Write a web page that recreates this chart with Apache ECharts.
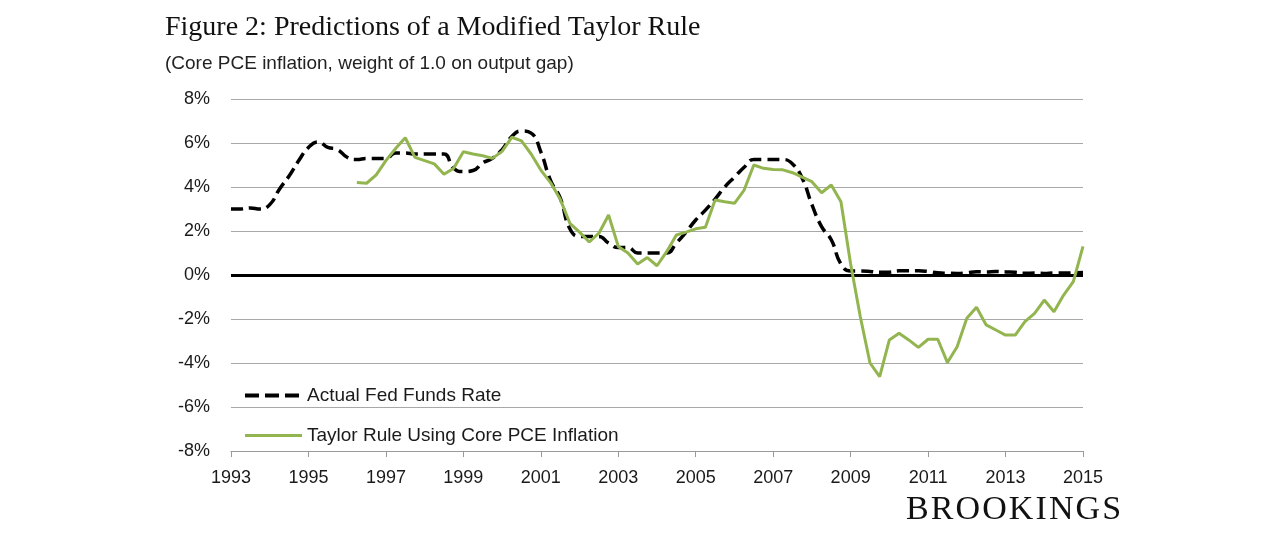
<!DOCTYPE html>
<html>
<head>
    <meta charset="utf-8">
    <title>Figure 2: Predictions of a Modified Taylor Rule</title>
    <style>
        html, body { margin: 0; padding: 0; background: #fff; }
        #wrap { position: relative; width: 1280px; height: 534px; }
        #chart { width: 1280px; height: 534px; }
        #brand {
            position: absolute; left: 906px; top: 488px;
            font-family: "Liberation Serif", serif; font-size: 34px;
            letter-spacing: 2.1px; color: #111; line-height: 40px;
        }
    </style>
</head>
<body>
<div id="wrap">
    <div id="chart"></div>
    <div id="brand">BROOKINGS</div>
</div>
<script src="https://cdn.jsdelivr.net/npm/echarts@6/dist/echarts.min.js"></script>
<script>
    // quarterly, 1993 Q1 .. 2015 Q1
    var years = [];
    for (var y = 1993; y <= 2015; y++) {
        for (var q = 1; q <= 4; q++) {
            if (y === 2015 && q > 1) break;
            years.push(y + ' Q' + q);
        }
    }

    var fedFunds = [
        3.0, 3.0, 3.05, 3.0,
        3.2, 3.9, 4.5, 5.2,
        5.8, 6.05, 5.8, 5.7,
        5.35, 5.25, 5.3, 5.3,
        5.3, 5.55, 5.55, 5.5,
        5.5, 5.5, 5.5, 4.85,
        4.7, 4.75, 5.1, 5.3,
        5.7, 6.3, 6.55, 6.45,
        5.6, 4.3, 3.5, 2.1,
        1.75, 1.75, 1.75, 1.45,
        1.25, 1.25, 1.0, 1.0,
        1.0, 1.0, 1.45, 1.95,
        2.5, 2.95, 3.45, 4.0,
        4.45, 4.9, 5.25, 5.25,
        5.25, 5.25, 5.05, 4.4,
        3.2, 2.2, 1.6, 0.5,
        0.18, 0.18, 0.16, 0.12,
        0.13, 0.19, 0.19, 0.19,
        0.16, 0.1, 0.08, 0.07,
        0.1, 0.15, 0.14, 0.16,
        0.14, 0.12, 0.08, 0.09,
        0.07, 0.09, 0.09, 0.1,
        0.11
    ];

    // starts 1996 Q2
    var taylorStart = '1996 Q2';
    var taylorRule = [
        4.2, 4.17, 4.55,
        5.2, 5.75, 6.24, 5.35,
        5.2, 5.05, 4.58, 4.85,
        5.6, 5.5, 5.42, 5.3,
        5.62, 6.26, 6.1, 5.5,
        4.77, 4.2, 3.45, 2.35,
        1.95, 1.5, 1.9, 2.73,
        1.3, 1.0, 0.5, 0.79,
        0.42, 1.06, 1.82, 1.95,
        2.1, 2.17, 3.41, 3.33,
        3.26, 3.86, 5.0, 4.85,
        4.8, 4.78, 4.65, 4.45,
        4.24, 3.74, 4.09, 3.33,
        0.5, -1.9, -4.0, -4.62,
        -2.95, -2.65, -2.95, -3.29,
        -2.92, -2.92, -3.98, -3.26,
        -1.97, -1.47, -2.27, -2.5,
        -2.73, -2.73, -2.12, -1.74,
        -1.14, -1.67, -0.91, -0.3,
        1.3
    ];

    var seriesNames = ['Actual Fed Funds Rate', 'Taylor Rule Using Core PCE Inflation'];

    var taylorData = [];
    var startIdx = years.indexOf(taylorStart);
    for (var i = 0; i < startIdx; i++) taylorData.push(null);
    taylorData = taylorData.concat(taylorRule);

    var chart = echarts.init(document.getElementById('chart'));

    var textColor = '#1a1a1a';
    var option = {
        animation: false,
        title: [{
            text: 'Figure 2: Predictions of a Modified Taylor Rule',
            left: 160, top: 9,
            textStyle: { fontFamily: 'Liberation Serif', fontWeight: 'normal', fontSize: 28, color: '#111' }
        }, {
            text: '(Core PCE inflation, weight of 1.0 on output gap)',
            left: 160, top: 49,
            textStyle: { fontFamily: 'Liberation Sans', fontWeight: 'normal', fontSize: 19, color: '#222' }
        }],
        grid: { left: 231, right: 197, top: 99, bottom: 83 },
        legend: {
            orient: 'vertical',
            left: 238, top: 381,
            itemWidth: 57, itemHeight: 14, itemGap: 21,
            itemStyle: { opacity: 0 },
            textStyle: { fontFamily: 'Liberation Sans', fontSize: 19, color: textColor },
            data: [
                { name: seriesNames[0], lineStyle: { width: 4, type: [14, 6] } },
                { name: seriesNames[1], lineStyle: { width: 3 } }
            ]
        },
        xAxis: {
            type: 'category',
            data: years,
            boundaryGap: false,
            axisLine: { onZero: false, lineStyle: { color: '#9a9a9a', width: 1.2 } },
            axisTick: { show: true, interval: 7, length: 6, lineStyle: { color: '#9a9a9a' } },
            axisLabel: {
                interval: 7, margin: 18,
                fontFamily: 'Liberation Sans', fontSize: 18, color: textColor,
                formatter: function (v) { return v.slice(0, 4); }
            },
            splitLine: { show: false }
        },
        yAxis: {
            type: 'value',
            min: -8, max: 8, interval: 2,
            axisLine: { show: false },
            axisTick: { show: false },
            axisLabel: {
                margin: 21,
                fontFamily: 'Liberation Sans', fontSize: 18, color: textColor,
                formatter: function (v) { return v + '%'; }
            },
            splitLine: { lineStyle: { color: '#a8a8a8', width: 1.2 } }
        },
        series: [{
            name: seriesNames[0],
            type: 'line',
            data: fedFunds,
            smooth: 0.5,
            symbol: 'none',
            z: 3,
            lineStyle: { color: '#000', width: 3.5, type: [12, 6] },
            itemStyle: { color: '#000' },
            markLine: {
                silent: true,
                symbol: 'none',
                label: { show: false },
                lineStyle: { color: '#000', width: 3, type: 'solid' },
                data: [{ yAxis: 0 }],
                z: 2
            }
        }, {
            name: seriesNames[1],
            type: 'line',
            data: taylorData,
            symbol: 'none',
            z: 4,
            lineStyle: { color: '#93b550', width: 3 },
            itemStyle: { color: '#93b550' }
        }]
    };
    chart.setOption(option);
</script>
</body>
</html>
